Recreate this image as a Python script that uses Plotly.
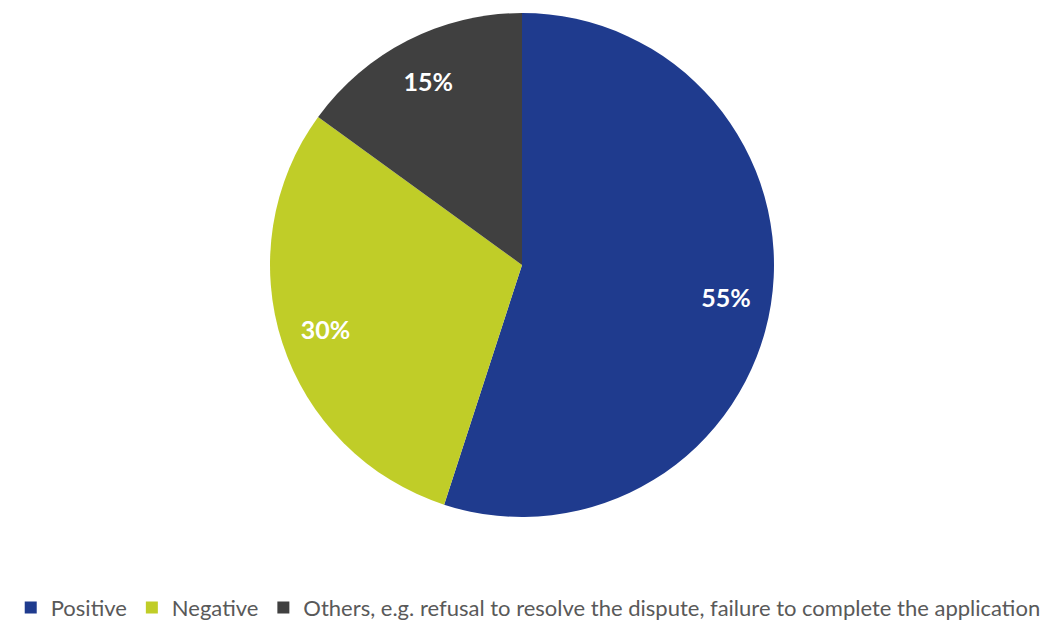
import plotly.graph_objects as go

labels = ["Positive", "Negative", "Others, e.g. refusal to resolve the dispute, failure to complete the application"]
values = [55, 30, 15]
colors = ["#1F3B8E", "#C0CD28", "#404040"]

W, H = 1046, 620
pie_dom = dict(x=[270 / W, 774 / W], y=[0, 1])

fig = go.Figure()

# Coloured slices (legend comes from this trace)
fig.add_trace(go.Pie(
    labels=labels,
    values=values,
    sort=False,
    direction="clockwise",
    rotation=0,
    marker=dict(colors=colors, line=dict(width=0)),
    textinfo="none",
    hoverinfo="label+percent",
    domain=pie_dom,
))

# Transparent ring carrying the percentage labels near the outer edge
fig.add_trace(go.Pie(
    labels=labels,
    values=values,
    sort=False,
    direction="clockwise",
    rotation=0,
    hole=0.64,
    marker=dict(colors=["rgba(0,0,0,0)"] * len(values), line=dict(width=0)),
    texttemplate="%{percent:.0%}",
    textposition="inside",
    insidetextorientation="horizontal",
    textfont=dict(family="Lato", size=25, color="white", weight="bold"),
    hoverinfo="skip",
    showlegend=False,
    domain=pie_dom,
))

fig.update_layout(
    width=W, height=H,
    margin=dict(l=0, r=0, t=13, b=103, autoexpand=False),
    paper_bgcolor="white",
    plot_bgcolor="white",
    showlegend=True,
    legend=dict(
        orientation="h",
        x=0.505, xanchor="center",
        y=-0.18, yanchor="middle",
        font=dict(family="Lato", size=22, color="#595959"),
        itemwidth=30,
        traceorder="normal",
    ),
)

fig.write_html(
    "out.html",
    config={"displayModeBar": False},
    post_script="document.body.style.margin='0';",
)
